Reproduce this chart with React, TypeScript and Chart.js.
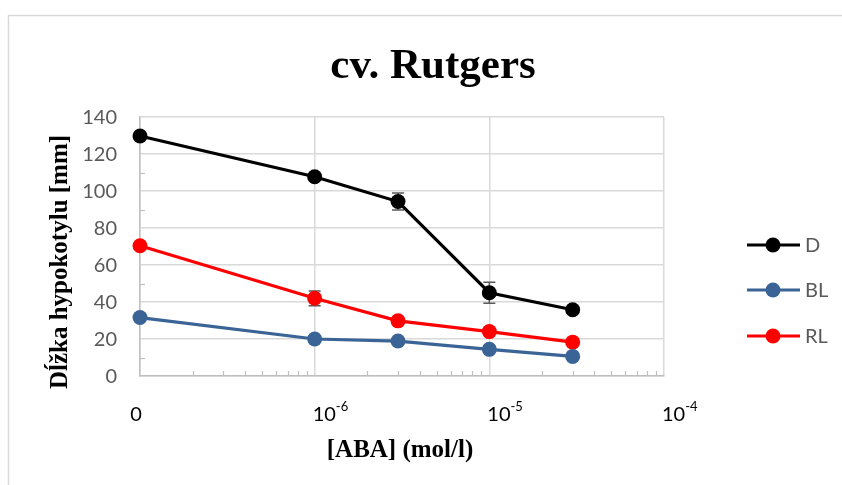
import React, { useEffect, useRef } from 'react';
import { Chart, registerables } from 'chart.js';

Chart.register(...registerables);

// ABA concentrations (mol/l); the control is placed at 10^-7 and labelled "0"
const concentrations = [1e-7, 1e-6, 3e-6, 1e-5, 3e-5];

const seriesNames = ['D', 'BL', 'RL'];
const dValues = [129.7, 107.7, 94.3, 45, 35.8];
const blValues = [31.6, 20, 18.9, 14.4, 10.6];
const rlValues = [70.4, 42, 29.8, 24, 18.3];

const dErrors = [0.8, 1, 4.6, 5.7, 1];
const blErrors = [0.8, 0.8, 0.8, 0.8, 0.8];
const rlErrors = [0.8, 4, 0.8, 0.8, 0.8];

const yTickValues = [0, 20, 40, 60, 80, 100, 120, 140];
const xTickValues = [1e-7, 1e-6, 1e-5, 1e-4];
const xTickBases = ['0', '10', '10', '10'];
const xTickExponents = ['', '-6', '-5', '-4'];

const chartTitle = 'cv. Rutgers';
const xAxisTitle = '[ABA] (mol/l)';
const yAxisTitle = 'Dĺžka hypokotylu [mm]';

const seriesColors = ['#000000', '#3a6396', '#ff0000'];

const LABEL_FONT = 'Lato, "Open Sans", sans-serif';
const TITLE_FONT = '"Liberation Serif", "Times New Roman", serif';
const LABEL_COLOR = '#595959';
const GRID_COLOR = '#d9d9d9';
const AXIS_COLOR = '#bfbfbf';

const errorSets = [dErrors, blErrors, rlErrors];

const decorPlugin = {
  id: 'decor',
  beforeDraw(chart: any) {
    const { ctx, width, height } = chart;
    ctx.save();
    ctx.fillStyle = '#ffffff';
    ctx.fillRect(0, 0, width, height);
    // outer chart frame
    ctx.strokeStyle = GRID_COLOR;
    ctx.lineWidth = 1.5;
    ctx.beginPath();
    ctx.moveTo(8.5, height);
    ctx.lineTo(8.5, 15.5);
    ctx.lineTo(width, 15.5);
    ctx.stroke();
    ctx.restore();
  },
  beforeDatasetsDraw(chart: any) {
    const { ctx } = chart;
    const xs = chart.scales.x;
    const ys = chart.scales.y;
    ctx.save();

    // minor tick marks on the value axis
    ctx.strokeStyle = AXIS_COLOR;
    ctx.lineWidth = 1.2;
    for (let v = 10; v < 140; v += 20) {
      const py = Math.round(ys.getPixelForValue(v)) + 0.5;
      ctx.beginPath();
      ctx.moveTo(xs.left, py);
      ctx.lineTo(xs.left + 5, py);
      ctx.stroke();
    }
    // minor tick marks on the log axis
    for (let e = -7; e < -4; e++) {
      for (let m = 2; m <= 9; m++) {
        const px = Math.round(xs.getPixelForValue(m * Math.pow(10, e))) + 0.5;
        ctx.beginPath();
        ctx.moveTo(px, ys.bottom);
        ctx.lineTo(px, ys.bottom - 5);
        ctx.stroke();
      }
    }

    // error bars
    ctx.strokeStyle = '#595959';
    ctx.lineWidth = 1.5;
    errorSets.forEach((errs, di) => {
      const meta = chart.getDatasetMeta(di);
      meta.data.forEach((pt: any, i: number) => {
        const raw = chart.data.datasets[di].data[i] as any;
        const top = ys.getPixelForValue(raw.y + errs[i]);
        const bot = ys.getPixelForValue(raw.y - errs[i]);
        ctx.beginPath();
        ctx.moveTo(pt.x, top);
        ctx.lineTo(pt.x, bot);
        ctx.moveTo(pt.x - 6, top);
        ctx.lineTo(pt.x + 6, top);
        ctx.moveTo(pt.x - 6, bot);
        ctx.lineTo(pt.x + 6, bot);
        ctx.stroke();
      });
    });
    ctx.restore();
  },
  afterDraw(chart: any) {
    const { ctx } = chart;
    const xs = chart.scales.x;
    const ys = chart.scales.y;
    ctx.save();

    // value-axis labels
    ctx.fillStyle = LABEL_COLOR;
    ctx.font = `20px ${LABEL_FONT}`;
    ctx.textAlign = 'right';
    ctx.textBaseline = 'middle';
    yTickValues.forEach((v) => {
      ctx.fillText(String(v), 117, ys.getPixelForValue(v) + 1);
    });

    // log-axis labels with superscript exponents
    ctx.fillStyle = '#000000';
    ctx.textBaseline = 'alphabetic';
    xTickValues.forEach((v, i) => {
      const px = xs.getPixelForValue(v);
      const base = xTickBases[i];
      const exp = xTickExponents[i];
      ctx.font = `20px ${LABEL_FONT}`;
      if (!exp) {
        ctx.textAlign = 'center';
        ctx.fillText(base, px - 4, 421);
        return;
      }
      ctx.textAlign = 'left';
      const startX = px - 2;
      ctx.fillText(base, startX, 421);
      const bw = ctx.measureText(base).width;
      ctx.font = `13px ${LABEL_FONT}`;
      ctx.fillText(exp, startX + bw, 411);
    });

    // chart title
    ctx.fillStyle = '#000000';
    ctx.textAlign = 'center';
    ctx.font = `bold 43px ${TITLE_FONT}`;
    ctx.fillText(chartTitle, 433, 78);

    // axis titles
    ctx.font = `bold 25px ${TITLE_FONT}`;
    ctx.fillText(xAxisTitle, 400, 457);
    ctx.save();
    ctx.translate(67, 262);
    ctx.rotate(-Math.PI / 2);
    ctx.fillText(yAxisTitle, 0, 0);
    ctx.restore();

    // legend
    const legendY = [245, 290, 336];
    seriesNames.forEach((name, i) => {
      const y = legendY[i];
      ctx.strokeStyle = seriesColors[i];
      ctx.lineWidth = 3.2;
      ctx.beginPath();
      ctx.moveTo(747, y);
      ctx.lineTo(800, y);
      ctx.stroke();
      ctx.fillStyle = seriesColors[i];
      ctx.beginPath();
      ctx.arc(773, y, 7.5, 0, Math.PI * 2);
      ctx.fill();
      ctx.fillStyle = LABEL_COLOR;
      ctx.font = `20px ${LABEL_FONT}`;
      ctx.textAlign = 'left';
      ctx.textBaseline = 'middle';
      ctx.fillText(name, 805, y + 1);
    });
    ctx.restore();
  },
};

function makeDataset(label: string, values: number[], color: string) {
  return {
    label,
    data: concentrations.map((x, i) => ({ x, y: values[i] })),
    borderColor: color,
    backgroundColor: color,
    borderWidth: 3.2,
    pointRadius: 7.5,
    pointHoverRadius: 7.5,
    pointBorderWidth: 0,
    pointBackgroundColor: color,
    tension: 0,
    clip: 12,
  };
}

export default function App() {
  const canvasRef = useRef<HTMLCanvasElement | null>(null);

  useEffect(() => {
    const canvas = canvasRef.current;
    if (!canvas) return;
    const chart = new Chart(canvas, {
      type: 'line',
      data: {
        datasets: [
          makeDataset(seriesNames[0], dValues, seriesColors[0]),
          makeDataset(seriesNames[1], blValues, seriesColors[1]),
          makeDataset(seriesNames[2], rlValues, seriesColors[2]),
        ],
      },
      options: {
        animation: false,
        responsive: false,
        maintainAspectRatio: false,
        devicePixelRatio: 1,
        layout: { padding: { left: 140, top: 117, right: 178, bottom: 109 } },
        plugins: {
          legend: { display: false },
          title: { display: false },
          tooltip: { enabled: false },
        },
        scales: {
          x: {
            type: 'logarithmic',
            min: 1e-7,
            max: 1e-4,
            afterBuildTicks: (scale: any) => {
              scale.ticks = xTickValues.map((value) => ({ value }));
            },
            ticks: { display: false },
            grid: { color: GRID_COLOR, lineWidth: 1.5, drawTicks: false },
            border: { display: true, color: AXIS_COLOR, width: 1.5 },
          },
          y: {
            min: 0,
            max: 140,
            afterBuildTicks: (scale: any) => {
              scale.ticks = yTickValues.map((value) => ({ value }));
            },
            ticks: { display: false },
            grid: { color: GRID_COLOR, lineWidth: 1.5, drawTicks: false },
            border: { display: true, color: AXIS_COLOR, width: 1.5 },
          },
        },
      },
      plugins: [decorPlugin],
    } as any);
    return () => chart.destroy();
  }, []);

  return (
    <div style={{ position: 'absolute', left: 0, top: 0, width: 842, height: 485, background: '#fff' }}>
      <canvas ref={canvasRef} width={842} height={485} style={{ display: 'block', width: 842, height: 485 }} />
    </div>
  );
}
